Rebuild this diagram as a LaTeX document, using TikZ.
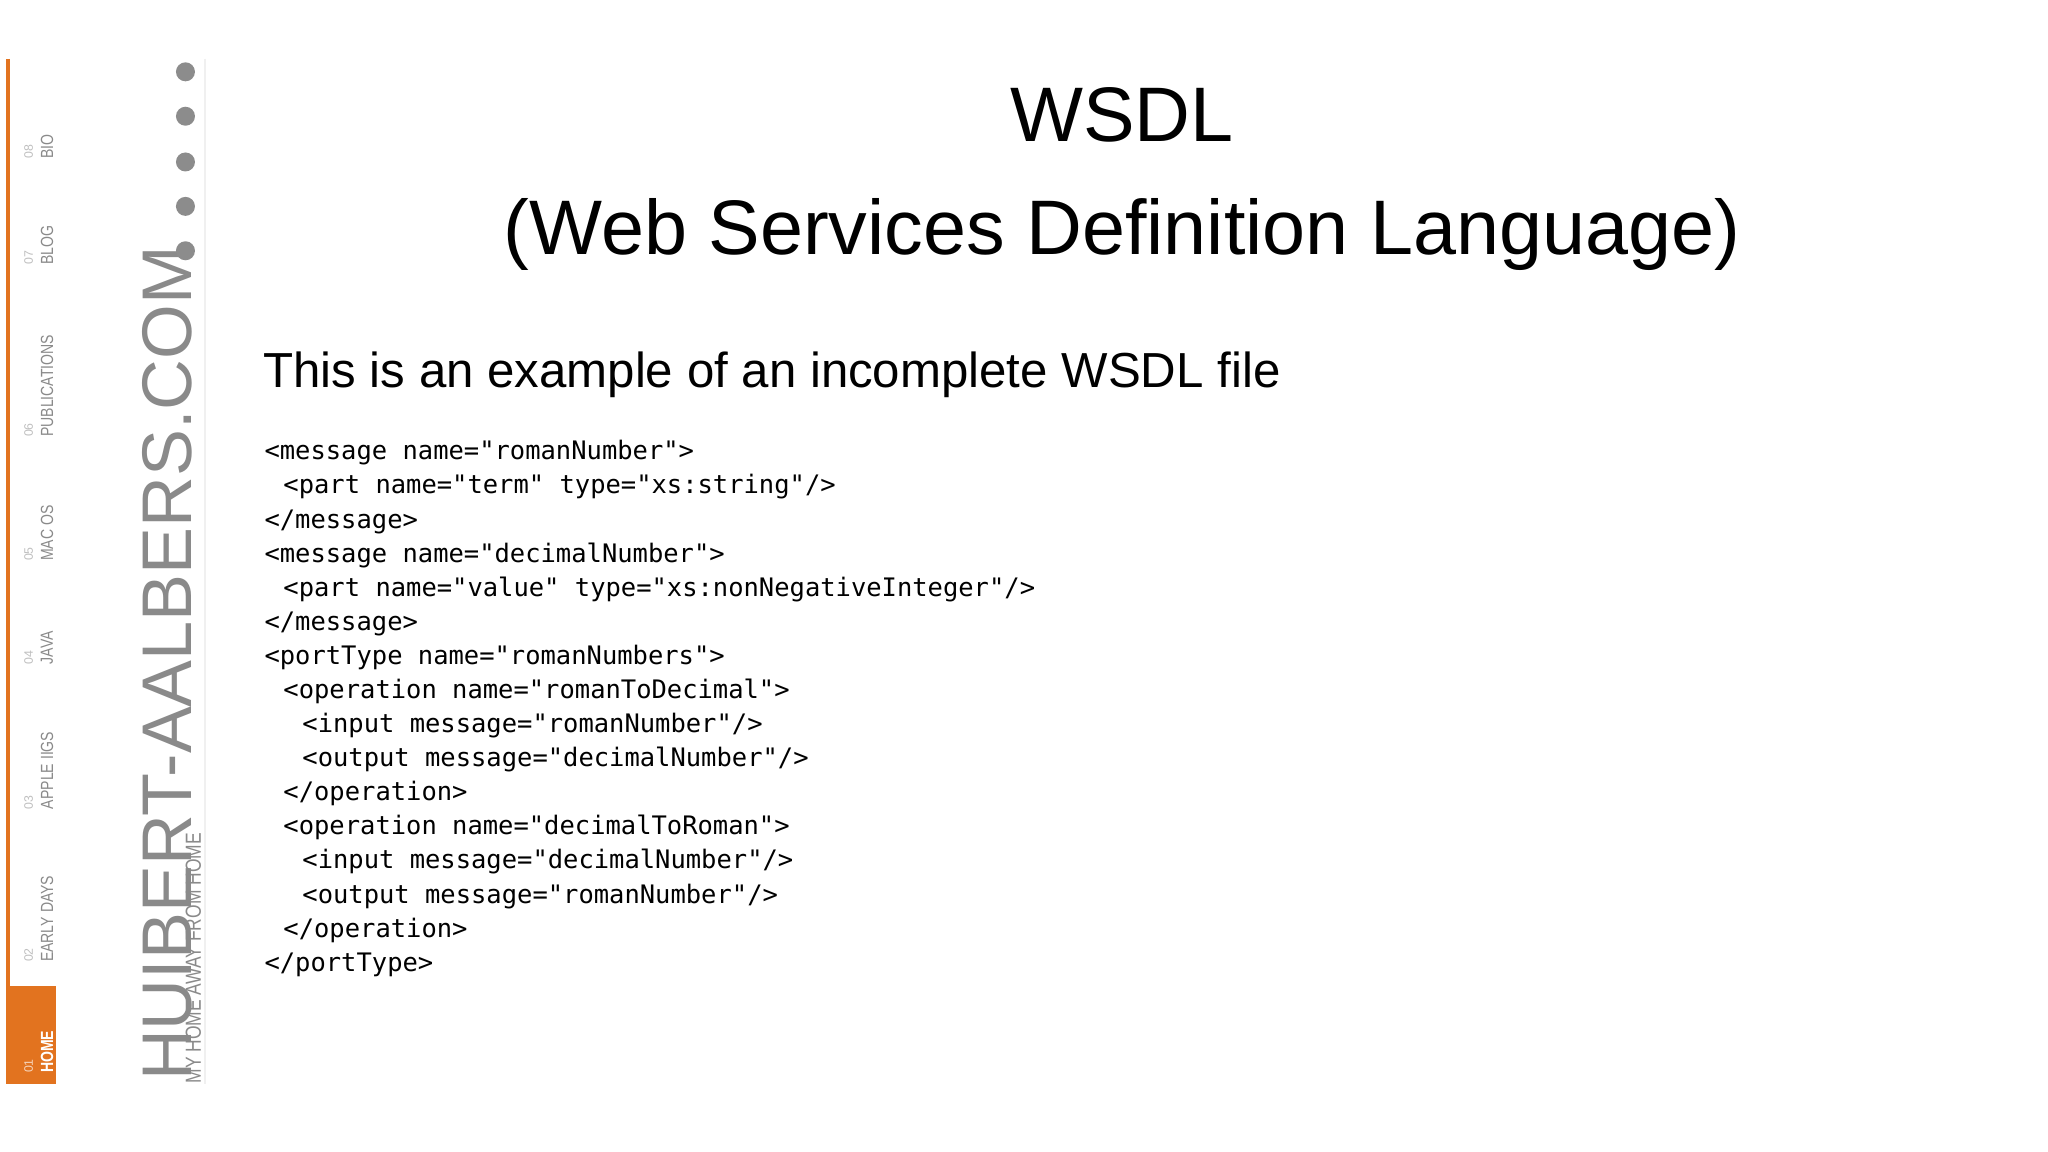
\documentclass[tikz,border=0pt]{standalone}
\usepackage{fontspec}
\setmainfont{Liberation Sans}
\newfontfamily\codefont{DejaVu Sans Mono}
\newfontfamily\narrowfont[FakeStretch=0.8]{Liberation Sans}
\definecolor{orng}{HTML}{E2731F}
\definecolor{sgray}{HTML}{8A8A8A}
\begin{document}
\begin{tikzpicture}[x={(0.013061cm,0)},y={(0,-0.013061cm)},
  nav/.style={rotate=90,anchor=west,font=\narrowfont\fontsize{5}{6}\selectfont,text=sgray,inner sep=0},
  num/.style={rotate=90,anchor=west,font=\fontsize{3.5}{4}\selectfont,text=black!25,inner sep=0},
  icon/.style={circle,fill=black!45,minimum size=0.19cm,inner sep=0},
  code/.style={anchor=base west,inner sep=0,font=\codefont\fontsize{7.25}{8}\selectfont}]
\useasboundingbox[fill=white] (0,0) rectangle (1568,882);
% sidebar
\draw[orng,line width=1.2pt] (6,45) -- (6,830);
\fill[orng] (5,755) rectangle (43,830);
\draw[black!6,line width=0.8pt] (157,45) -- (157,830);
\foreach \t/\n/\y in {BIO/08/122,BLOG/07/203,PUBLICATIONS/06/335,MAC OS/05/430,JAVA/04/509,APPLE IIGS/03/620,EARLY DAYS/02/737}{
  \node[nav] (n\n) at (36,\y) {\t};
  \node[num] (m\n) at (22,\y) {\n};
}
\node[nav,text=white,font=\narrowfont\fontsize{5}{6}\selectfont\bfseries] (home) at (36,822) {HOME};
\node[num,text=white!70!orng] (m01) at (22,822) {01};
\node[rotate=90,anchor=west,inner sep=0,text=sgray,font=\fontsize{20}{20}\selectfont] (brand) at (128,828) {HUIBERT-AALBERS.COM};
\node[rotate=90,anchor=west,inner sep=0,text=sgray,font=\narrowfont\fontsize{6.2}{7}\selectfont] (tag) at (148,830) {MY HOME AWAY FROM HOME};
\foreach \y [count=\i] in {55,89,124,158,192}{ \node[icon] (ic\i) at (142,\y) {}; }
% title
\node[font=\fontsize{22}{26}\selectfont,align=center,inner sep=0] (title) at (859,137) {WSDL\\[6pt](Web Services Definition Language)};
\node[anchor=base west,inner sep=0,font=\fontsize{14}{17}\selectfont] (sub) at (201,297) {This is an example of an incomplete WSDL file};
\foreach \ind/\txt [count=\i] in {
0/{<message name="romanNumber">},
1/{<part name="term" type="xs:string"/>},
0/{</message>},
0/{<message name="decimalNumber">},
1/{<part name="value" type="xs:nonNegativeInteger"/>},
0/{</message>},
0/{<portType name="romanNumbers">},
1/{<operation name="romanToDecimal">},
2/{<input message="romanNumber"/>},
2/{<output message="decimalNumber"/>},
1/{</operation>},
1/{<operation name="decimalToRoman">},
2/{<input message="decimalNumber"/>},
2/{<output message="romanNumber"/>},
1/{</operation>},
0/{</portType>}}{
  \node[code] (c\i) at ({202+14.5*\ind},{326+26.1*\i}) {\obeyspaces\txt};
}
\end{tikzpicture}
\end{document}
